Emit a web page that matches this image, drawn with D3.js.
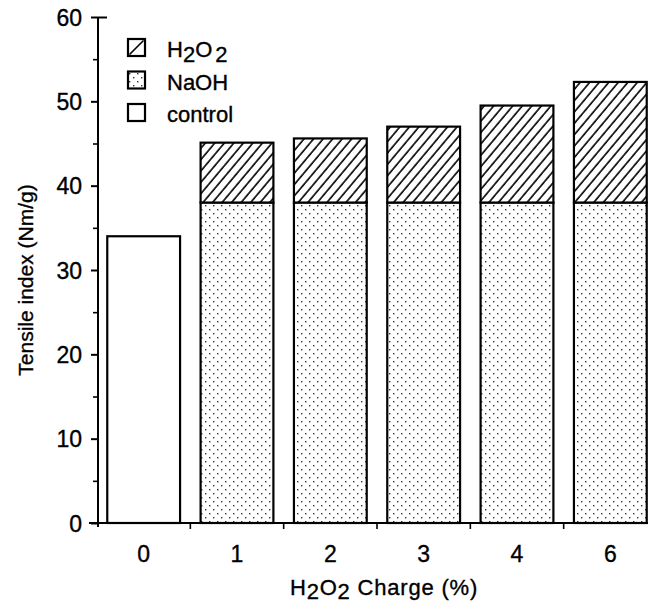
<!DOCTYPE html>
<html>
<head>
<meta charset="utf-8">
<script src="https://cdn.jsdelivr.net/npm/d3@7"></script>
<style>
  html, body { margin: 0; padding: 0; background: #fff; }
  svg { display: block; font-family: "Liberation Sans", Arial, Helvetica, sans-serif; }
  text { fill: #000; stroke: #000; stroke-width: 0.35px; }
</style>
</head>
<body>
<svg id="chart" width="648" height="607"></svg>
<script>
// ---- data ----
const categories = ["0", "1", "2", "3", "4", "6"];
const controlValues = [34, 0, 0, 0, 0, 0];
const naohValues = [0, 38, 38, 38, 38, 38];
const h2o2Values = [0, 7.1, 7.6, 9, 11.5, 14.3];   // increment on top of NaOH
const yTicks = [0, 10, 20, 30, 40, 50, 60];
const yMinorTicks = [5, 15, 25, 35, 45, 55];
const legendItems = ["H2O2", "NaOH", "control"];

(function () {
const svg = d3.select("#chart");
const pLeft = 97, pRight = 657, pTop = 17, pBottom = 523;

const x = d3.scaleBand().domain(categories).range([pLeft, pRight])
  .paddingInner(0.22).paddingOuter(0.11);
const y = d3.scaleLinear().domain([0, 60]).range([pBottom, pTop]);

// patterns
const defs = svg.append("defs");
const hatch = defs.append("pattern").attr("id", "hatch")
  .attr("patternUnits", "userSpaceOnUse").attr("width", 7.3).attr("height", 10)
  .attr("patternTransform", "rotate(40)");
hatch.append("rect").attr("width", 7.3).attr("height", 10).attr("fill", "#fff");
hatch.append("line").attr("x1", 1).attr("y1", 0).attr("x2", 1).attr("y2", 10)
  .attr("stroke", "#000").attr("stroke-width", 1.6);

const dots = defs.append("pattern").attr("id", "dots")
  .attr("patternUnits", "userSpaceOnUse").attr("width", 8).attr("height", 8);
dots.append("rect").attr("width", 8).attr("height", 8).attr("fill", "#fff");
dots.append("rect").attr("x", 1).attr("y", 1).attr("width", 1.4).attr("height", 1.4).attr("fill", "#333");
dots.append("rect").attr("x", 5).attr("y", 5).attr("width", 1.4).attr("height", 1.4).attr("fill", "#333");

// bars
const rows = categories.map((c, i) => ({
  cat: c, control: controlValues[i], naoh: naohValues[i], h2o2: h2o2Values[i]
}));
const g = svg.append("g");
rows.forEach(d => {
  if (d.control > 0) {
    g.append("rect").attr("x", x(d.cat)).attr("width", x.bandwidth())
      .attr("y", y(d.control)).attr("height", y(0) - y(d.control))
      .attr("fill", "#fff").attr("stroke", "#000").attr("stroke-width", 2.2);
  }
  if (d.naoh > 0) {
    g.append("rect").attr("x", x(d.cat)).attr("width", x.bandwidth())
      .attr("y", y(d.naoh)).attr("height", y(0) - y(d.naoh))
      .attr("fill", "url(#dots)").attr("stroke", "#000").attr("stroke-width", 2.2);
  }
  if (d.h2o2 > 0) {
    g.append("rect").attr("x", x(d.cat)).attr("width", x.bandwidth())
      .attr("y", y(d.naoh + d.h2o2)).attr("height", y(d.naoh) - y(d.naoh + d.h2o2))
      .attr("fill", "url(#hatch)").attr("stroke", "#000").attr("stroke-width", 2.2);
  }
});

// y axis
const yAxis = d3.axisLeft(y).tickValues(yTicks).tickSize(7).tickPadding(9);
const ya = svg.append("g").attr("transform", `translate(${pLeft + 1},0)`).call(yAxis);
ya.attr("font-size", null).attr("font-family", null);
ya.select(".domain").attr("stroke-width", 2).attr("d", `M0,${pTop}V${pBottom + 4}`);
ya.selectAll(".tick line").attr("stroke-width", 2);
ya.selectAll(".tick text").attr("font-size", 23).attr("dy", "0.36em");
ya.selectAll(".tick").filter(d => d === 60).select("line").attr("x2", -7).attr("x1", 9);
const yMinor = d3.axisLeft(y).tickValues(yMinorTicks).tickSize(5).tickFormat("");
const ym = svg.append("g").attr("transform", `translate(${pLeft + 1},0)`).call(yMinor);
ym.select(".domain").remove();
ym.selectAll(".tick line").attr("stroke-width", 1.6);

// x axis
const boundaries = categories.slice(1).map(c => x(c) - x.step() * x.paddingInner() / 2);
svg.append("line").attr("x1", pLeft - 8).attr("x2", 648).attr("y1", pBottom).attr("y2", pBottom)
  .attr("stroke", "#000").attr("stroke-width", 2);
svg.append("g").selectAll("line").data(boundaries).join("line")
  .attr("x1", d => d).attr("x2", d => d).attr("y1", pBottom).attr("y2", pBottom + 6)
  .attr("stroke", "#000").attr("stroke-width", 1.6);
svg.append("g").selectAll("text").data(categories).join("text")
  .attr("x", d => x(d) + x.bandwidth() / 2).attr("y", 562)
  .attr("text-anchor", "middle").attr("font-size", 23).text(d => d);

// axis titles
const xt = svg.append("text").attr("x", 384).attr("y", 595).attr("text-anchor", "middle")
  .attr("font-size", 22).attr("letter-spacing", 0.8);
xt.append("tspan").text("H");
xt.append("tspan").attr("dy", 4).text("2");
xt.append("tspan").attr("dy", -4).text("O");
xt.append("tspan").attr("dy", 4).text("2");
xt.append("tspan").attr("dy", -4).text(" Charge (%)");

svg.append("text").attr("transform", `translate(33,280) rotate(-90)`)
  .attr("text-anchor", "middle").attr("font-size", 21).text("Tensile index (Nm/g)");

// legend
const lg = svg.append("g");
const fills = ["#fff", "url(#dots)", "#fff"];
legendItems.forEach((name, i) => {
  const yy = 39 + i * 32.5;
  lg.append("rect").attr("x", 128).attr("y", yy).attr("width", 17).attr("height", 17)
    .attr("fill", fills[i]).attr("stroke", "#000").attr("stroke-width", 2.2);
  if (i === 0) {
    lg.append("line").attr("x1", 129.5).attr("y1", yy + 15.5).attr("x2", 143.5).attr("y2", yy + 1.5)
      .attr("stroke", "#000").attr("stroke-width", 1.6);
  }
  const t = lg.append("text").attr("x", 167).attr("y", yy + 18).attr("font-size", 22);
  if (name === "H2O2") {
    t.append("tspan").text("H");
    t.append("tspan").attr("dy", 5).text("2");
    t.append("tspan").attr("dy", -5).text("O");
    t.append("tspan").attr("dy", 5).attr("dx", 3).text("2");
  } else {
    t.text(name);
  }
});
})();
</script>
</body>
</html>
